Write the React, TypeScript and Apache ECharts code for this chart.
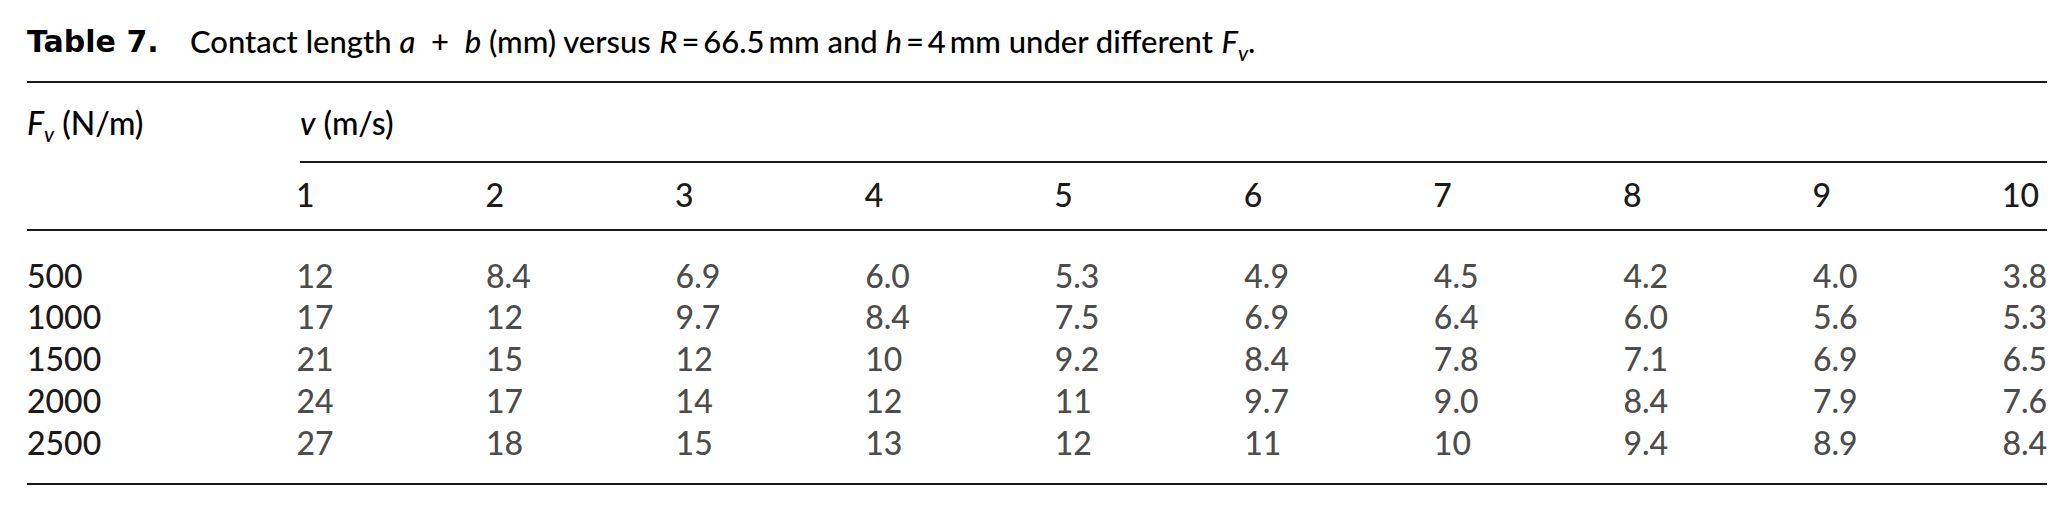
import React, { useEffect, useRef } from "react";
import * as echarts from "echarts";

// ---- data ----
const vValues = [1, 2, 3, 4, 5, 6, 7, 8, 9, 10];
const fvValues = [500, 1000, 1500, 2000, 2500];
const len500 = [12, 8.4, 6.9, 6.0, 5.3, 4.9, 4.5, 4.2, 4.0, 3.8];
const len1000 = [17, 12, 9.7, 8.4, 7.5, 6.9, 6.4, 6.0, 5.6, 5.3];
const len1500 = [21, 15, 12, 10, 9.2, 8.4, 7.8, 7.1, 6.9, 6.5];
const len2000 = [24, 17, 14, 12, 11, 9.7, 9.0, 8.4, 7.9, 7.6];
const len2500 = [27, 18, 15, 13, 12, 11, 10, 9.4, 8.9, 8.4];

// ---- styles / layout ----
const FONT = "Lato, 'Open Sans', sans-serif";
const BOLD_FONT = "'DejaVu Sans', Lato, sans-serif";
const INK = "#1a1a1a";
const WEIGHT = 500;
const FS = 32;
const TFS = 31;
const LEFT = 27;
const RIGHT = 2047;
const COL0 = 296;
const COLW = 1706;
const ROW0 = 275;
const ROWH = 167.5;

const fmt = (v: number) => (v < 10 ? v.toFixed(1) : String(Math.round(v)));

const makeRich = (fs: number) => ({
  r: { fontSize: fs, fontFamily: FONT, fontWeight: WEIGHT, color: INK, lineHeight: 44 },
  b: { fontSize: 30, fontFamily: BOLD_FONT, color: INK, fontWeight: "bold", lineHeight: 44 },
  i: { fontSize: fs, fontFamily: FONT, fontWeight: WEIGHT, color: INK, fontStyle: "italic", lineHeight: 44 },
  s: {
    fontSize: 21,
    fontFamily: FONT,
    fontWeight: WEIGHT,
    color: INK,
    fontStyle: "italic",
    lineHeight: 44,
    verticalAlign: "bottom",
  },
});

const cellText = {
  fontSize: FS,
  fontFamily: FONT,
  fontWeight: WEIGHT,
  color: INK,
};

export default function App() {
  const ref = useRef<HTMLDivElement>(null);
  useEffect(() => {
    const chart = echarts.init(ref.current!, null, { renderer: "svg" });
    const rows = [len500, len1000, len1500, len2000, len2500];
    const data: number[][] = [];
    rows.forEach((row, r) => row.forEach((val, c) => data.push([c, r, val])));

    const rule = (x1: number, x2: number, y: number) => ({
      type: "line",
      shape: { x1, y1: y, x2, y2: y },
      style: { stroke: INK, lineWidth: 2 },
      silent: true,
    });

    chart.setOption({
      animation: false,
      backgroundColor: "#ffffff",
      grid: { left: COL0, top: ROW0, width: COLW, height: ROWH },
      xAxis: {
        type: "category",
        data: vValues.map(String),
        boundaryGap: false,
        position: "top",
        axisLine: { show: false },
        axisTick: { show: false },
        splitLine: { show: false },
        axisLabel: { interval: 0, margin: 81, align: "left", verticalAlign: "middle", ...cellText },
      },
      yAxis: {
        type: "category",
        data: fvValues.map(String),
        inverse: true,
        boundaryGap: false,
        axisLine: { show: false },
        axisTick: { show: false },
        splitLine: { show: false },
        axisLabel: { interval: 0, margin: COL0 - LEFT, align: "left", verticalAlign: "middle", ...cellText },
      },
      series: [
        {
          type: "scatter",
          data,
          symbolSize: 1,
          silent: true,
          itemStyle: { color: "rgba(0,0,0,0)" },
          label: {
            show: true,
            position: "right",
            distance: 0,
            ...cellText,
            formatter: (p: any) => fmt(p.value[2]),
          },
        },
      ],
      graphic: [
        {
          type: "text",
          x: LEFT,
          y: 41,
          silent: true,
          style: {
            text:
              "{b|Table 7.}{r|    Contact length }{i|a}{r|  +  }{i|b}{r| (mm) versus }{i|R}{r|\u2009=\u200966.5\u2009mm and }{i|h}{r|\u2009=\u20094\u2009mm under different }{i|F}{s|v}{r|.}",
            rich: makeRich(TFS),
            verticalAlign: "middle",
          },
        },
        {
          type: "text",
          x: LEFT,
          y: 122,
          silent: true,
          style: { text: "{i|F}{s|v}{r| (N/m)}", rich: makeRich(FS), verticalAlign: "middle" },
        },
        {
          type: "text",
          x: 300,
          y: 122,
          silent: true,
          style: { text: "{i|v}{r| (m/s)}", rich: makeRich(FS), verticalAlign: "middle" },
        },
        rule(LEFT, RIGHT, 82),
        rule(300, RIGHT, 162),
        rule(LEFT, RIGHT, 230),
        rule(LEFT, RIGHT, 484),
      ],
    });
    return () => chart.dispose();
  }, []);
  return (
    <div
      ref={ref}
      style={{ position: "absolute", left: 0, top: 0, width: 2072, height: 511, background: "#fff" }}
    />
  );
}
